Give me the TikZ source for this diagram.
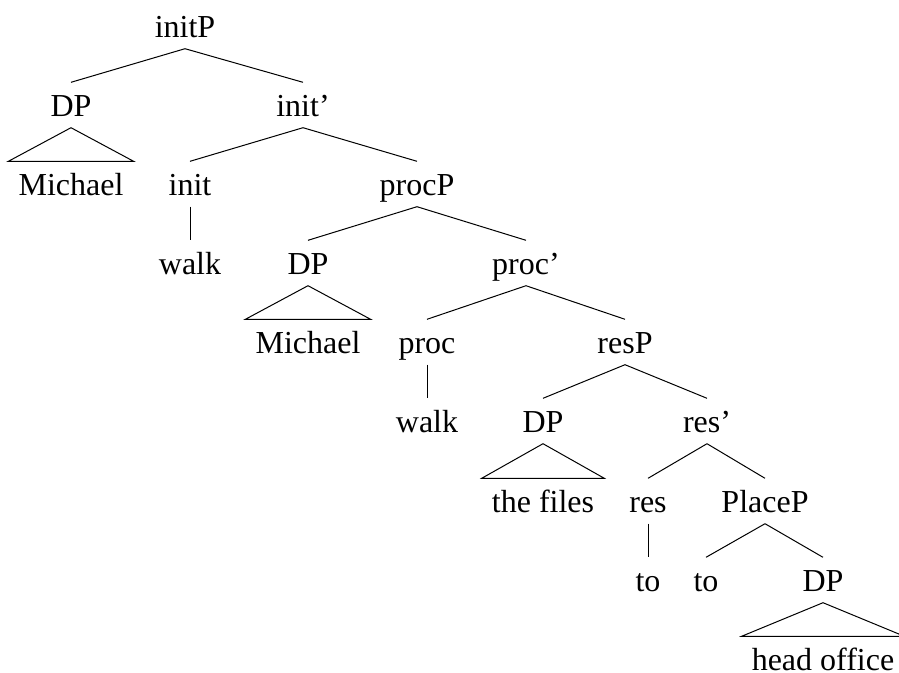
\documentclass[tikz,border=0pt]{standalone}
\usepackage{fontspec}
\setmainfont{Liberation Serif}
\begin{document}
\begin{tikzpicture}[x=1pt,y=-1pt,
  lbl/.style={anchor=base,inner xsep=0pt,inner ysep=11.5pt,text height=22pt,text depth=0pt,
    font=\fontsize{32}{38}\selectfont},
  rooflbl/.style={lbl,inner xsep=10pt},
  edge/.style={draw,line width=1pt},
]
\useasboundingbox (0,0) rectangle (899,672);
% level baselines: 37,116,195,274,353,432,512,591,670
\node[lbl] (initP) at (185,37) {initP};
\node[lbl] (DPa) at (71,116) {DP};
\node[lbl] (initbar) at (303,116) {init’};
\node[rooflbl] (Michaela) at (71,195) {Michael};
\node[lbl] (init) at (190,195) {init};
\node[lbl] (procP) at (417,195) {procP};
\node[lbl] (walka) at (190,274) {walk};
\node[lbl] (DPb) at (308,274) {DP};
\node[lbl] (procbar) at (526,274) {proc’};
\node[rooflbl] (Michaelb) at (308,353) {Michael};
\node[lbl] (proc) at (427,353) {proc};
\node[lbl] (resP) at (625,353) {resP};
\node[lbl] (walkb) at (427,432) {walk};
\node[lbl] (DPc) at (543,432) {DP};
\node[lbl] (resbar) at (707,432) {res’};
\node[rooflbl] (files) at (543,512) {the files};
\node[lbl] (res) at (648,512) {res};
\node[lbl] (PlaceP) at (765,512) {PlaceP};
\node[lbl] (toa) at (648,591) {to};
\node[lbl] (tob) at (706,591) {to};
\node[lbl] (DPd) at (823,591) {DP};
\node[rooflbl] (office) at (823,670) {head office};

\draw[edge] (initP.south) -- (DPa.north);
\draw[edge] (initP.south) -- (initbar.north);
\draw[edge] (DPa.south) -- (Michaela.north west) -- (Michaela.north east) -- cycle;
\draw[edge] (initbar.south) -- (init.north);
\draw[edge] (initbar.south) -- (procP.north);
\draw[edge] (init.south) -- (walka.north);
\draw[edge] (procP.south) -- (DPb.north);
\draw[edge] (procP.south) -- (procbar.north);
\draw[edge] (DPb.south) -- (Michaelb.north west) -- (Michaelb.north east) -- cycle;
\draw[edge] (procbar.south) -- (proc.north);
\draw[edge] (procbar.south) -- (resP.north);
\draw[edge] (proc.south) -- (walkb.north);
\draw[edge] (resP.south) -- (DPc.north);
\draw[edge] (resP.south) -- (resbar.north);
\draw[edge] (DPc.south) -- (files.north west) -- (files.north east) -- cycle;
\draw[edge] (resbar.south) -- (res.north);
\draw[edge] (resbar.south) -- (PlaceP.north);
\draw[edge] (res.south) -- (toa.north);
\draw[edge] (PlaceP.south) -- (tob.north);
\draw[edge] (PlaceP.south) -- (DPd.north);
\draw[edge] (DPd.south) -- (office.north west) -- (office.north east) -- cycle;
\end{tikzpicture}
\end{document}
